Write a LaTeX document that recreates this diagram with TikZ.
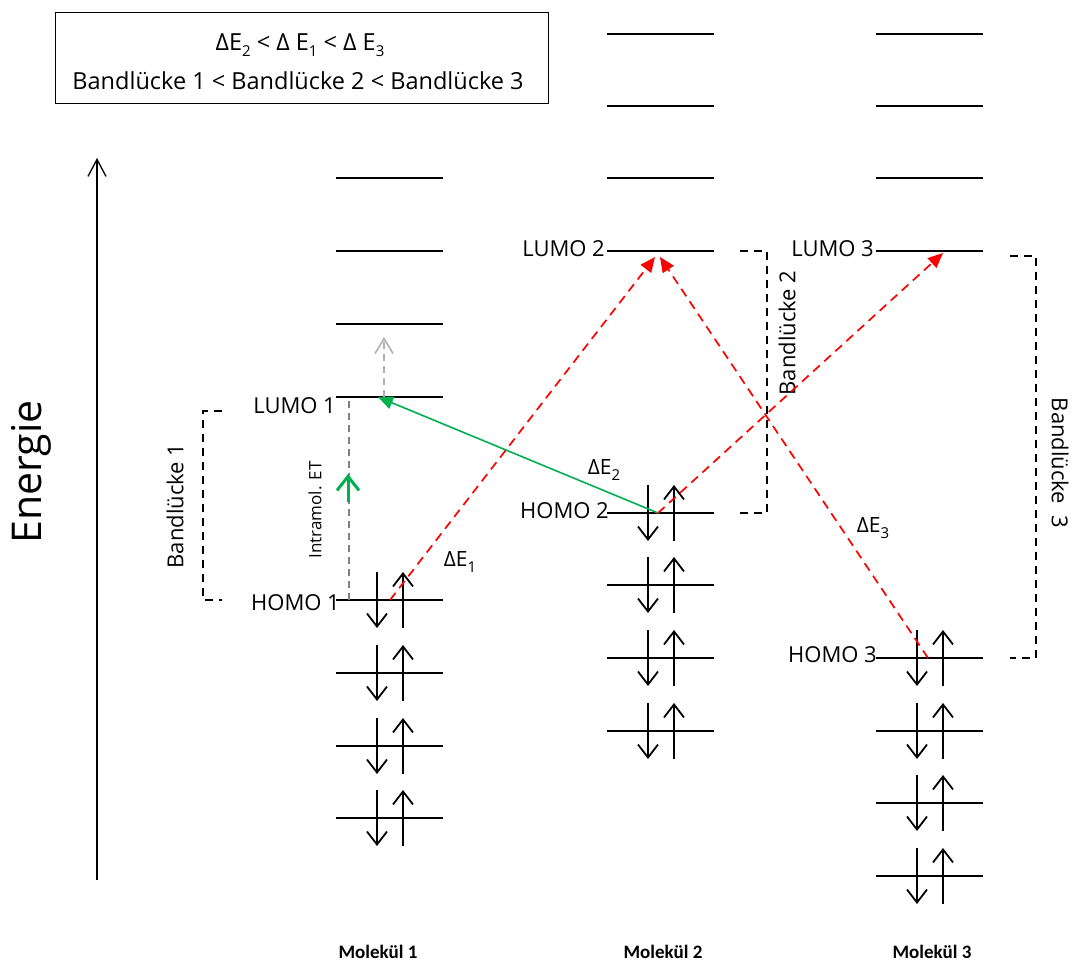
\documentclass[tikz,border=0pt]{standalone}
\usepackage{fontspec}
\setmainfont{Open Sans}
\newfontfamily\molfont{Carlito}
\usetikzlibrary{arrows.meta}
\newcommand{\fs}[1]{\fontsize{#1}{#1}\selectfont}
\newcommand{\sub}[1]{\raisebox{-6pt}{\fs{15}#1}}
\tikzset{
  lvl/.style={line width=1.8pt},
  spin/.style={line width=1.8pt,-{Straight Barb[length=13pt,width=20pt,line width=1.8pt]}},
  lab/.style={inner sep=0pt,font=\fs{22}},
  gapbr/.style={dashed,dash pattern=on 8pt off 6pt,line width=1.5pt},
  redarr/.style={red,line width=1.7pt,dash pattern=on 9pt off 6pt,-{Triangle[length=15pt,width=13pt]}},
  greenarr/.style={draw=ogreen,line width=1.6pt,-{Triangle[length=15pt,width=13pt]}},
}
\definecolor{ogreen}{RGB}{0,176,80}
\definecolor{lgray}{RGB}{176,176,176}
\definecolor{mgray}{RGB}{128,128,128}
\begin{document}
\begin{tikzpicture}[x=1pt,y=-1pt]
\useasboundingbox (0,0) rectangle (1072,965);
% info box
\node[draw,line width=1pt,minimum width=493pt,minimum height=91pt,inner sep=0pt] (box) at (301.5,58.5) {};
\node[inner sep=0pt,font=\fs{23.5}] (t1) at (300,45) {ΔE\sub{2} < Δ E\sub{1} < Δ E\sub{3}};
\node[inner sep=0pt,font=\fs{23.5}] (t2) at (298,81) {Bandlücke 1 < Bandlücke 2 < Bandlücke 3};
% energy axis
\coordinate (ea) at (97,880);
\coordinate (eb) at (97,158);
\draw[line width=1.3pt,-{Straight Barb[length=17pt,width=18pt,line width=1.3pt]}] (ea) -- (eb);
\node[rotate=90,inner sep=0pt,font=\fs{41}] (energie) at (31,472) {Energie};
% empty levels
\foreach \x/\ys in {336/{178,251,324,397},607/{34,106,178,251},876/{34,106,178,251}}{
  \foreach \y in \ys { \draw[lvl] (\x,\y) -- ++(107,0); }
}
% occupied levels
\foreach \x/\ys in {336/{600,673,746,818},607/{513,585,658,731},876/{658,731,803,876}}{
  \foreach \y in \ys {
    \draw[lvl] (\x,\y) -- ++(107,0);
    \draw[spin] (\x+41,\y-28) -- (\x+41,\y+28);
    \draw[spin] (\x+67,\y+28) -- (\x+67,\y-28);
  }
}
% labels
\node[lab,anchor=east] (lumo1) at (336,406) {LUMO 1};
\node[lab,anchor=east] (homo1) at (340,603) {HOMO 1};
\node[lab,anchor=east] (lumo2) at (605,249) {LUMO 2};
\node[lab,anchor=east] (homo2) at (609,511) {HOMO 2};
\node[lab,anchor=east] (lumo3) at (874,249) {LUMO 3};
\node[lab,anchor=east] (homo3) at (877,655) {HOMO 3};
% band gaps
\coordinate (b1a) at (222,411); \coordinate (b1b) at (203,411);
\coordinate (b1c) at (203,600); \coordinate (b1d) at (222,600);
\draw[gapbr] (b1a) -- (b1b) -- (b1c) -- (b1d);
\node[lab,rotate=90] (bl1) at (175,506) {Bandlücke 1};
\coordinate (b2a) at (740,251); \coordinate (b2b) at (767,251);
\coordinate (b2c) at (767,513); \coordinate (b2d) at (740,513);
\draw[gapbr] (b2a) -- (b2b) -- (b2c) -- (b2d);
\node[lab,rotate=90] (bl2) at (787,333) {Bandlücke 2};
\coordinate (b3a) at (1010,256); \coordinate (b3b) at (1036,256);
\coordinate (b3c) at (1036,658); \coordinate (b3d) at (1010,658);
\draw[gapbr] (b3a) -- (b3b) -- (b3c) -- (b3d);
\node[lab,rotate=-90] (bl3) at (1060,463) {Bandlücke\ \ 3};
% intramolecular ET
\coordinate (ia) at (349,600); \coordinate (ib) at (349,397);
\draw[mgray,line width=1.5pt,dash pattern=on 7pt off 5pt] (ia) -- (ib);
\coordinate (ga) at (348,502); \coordinate (gb) at (348,474);
\draw[ogreen,line width=3pt,-{Straight Barb[length=14pt,width=22pt,line width=3pt]}] (ga) -- (gb);
\coordinate (la) at (384,397); \coordinate (lb) at (384,337);
\draw[lgray,line width=1.6pt,dash pattern=on 7pt off 5pt,-{Straight Barb[length=15pt,width=18pt,line width=1.6pt]}] (la) -- (lb);
\node[inner sep=0pt,rotate=90,font=\fs{17}] (iet) at (315,510) {Intramol. ET};
% transitions
\coordinate (h1) at (390,600); \coordinate (l2a) at (655,257);
\coordinate (h3) at (928,658); \coordinate (l2b) at (660,257);
\coordinate (h2) at (658,513); \coordinate (l3) at (943,253);
\coordinate (l1) at (378,397);
\draw[greenarr] (h2) -- (l1);
\draw[redarr] (h1) -- (l2a);
\draw[redarr] (h3) -- (l2b);
\draw[redarr] (h2) -- (l3);
\node[inner sep=0pt,font=\fs{21}] (de1) at (460,562) {ΔE\sub{1}};
\node[inner sep=0pt,font=\fs{21}] (de2) at (604,470) {ΔE\sub{2}};
\node[inner sep=0pt,font=\fs{21}] (de3) at (873,528) {ΔE\sub{3}};
% molecule labels
\node[inner sep=0pt,font=\molfont\bfseries\fs{19}] (m1) at (378,952) {Molekül 1};
\node[inner sep=0pt,font=\molfont\bfseries\fs{19}] (m2) at (663,952) {Molekül 2};
\node[inner sep=0pt,font=\molfont\bfseries\fs{19}] (m3) at (932,952) {Molekül 3};
\end{tikzpicture}
\end{document}
